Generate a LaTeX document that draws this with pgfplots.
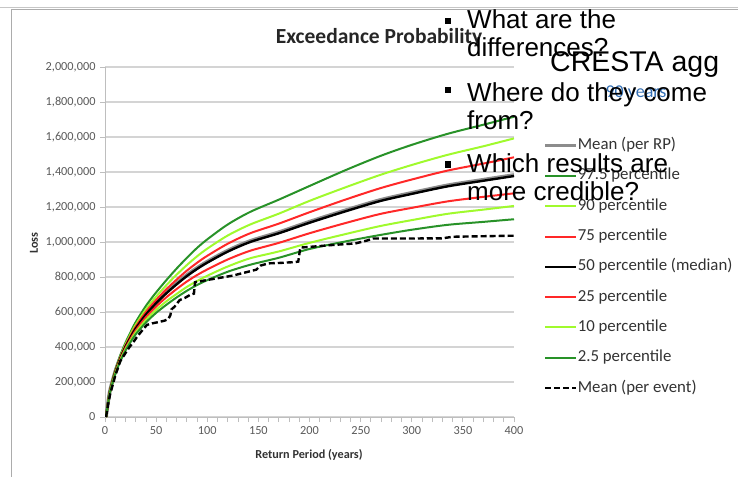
\documentclass[border=0pt]{standalone}
\usepackage{fontspec}
\setmainfont{Carlito}
\newfontfamily\arial{Liberation Sans}
\usepackage{pgfplots}
\usepackage{pgfplotstable}
\pgfplotsset{compat=1.18}
\definecolor{dgreen}{RGB}{40,146,40}
\definecolor{lgreen}{RGB}{160,250,45}
\definecolor{ered}{RGB}{255,40,40}
\definecolor{meangray}{RGB}{140,140,140}
\definecolor{gridgray}{RGB}{212,212,212}
\definecolor{axgray}{RGB}{190,190,190}
\definecolor{labgray}{RGB}{89,89,89}
\definecolor{legtext}{RGB}{50,50,50}
\definecolor{yrsblue}{RGB}{50,110,180}

\pgfplotstableread{
rp   meanrp  p975    p90     p75     p50     p25     p10     p025
1    0       0       0       0       0       0       0       0
3    84000   83000   82000   81000   80000   79000   78000   77000
5    155000  156000  154000  152000  150000  148000  146000  144000
10   260000  267000  262000  259000  255000  251000  248000  244000
15   340000  353000  345000  340000  335000  330000  325000  319000
20   406000  424000  414000  407000  400000  393000  386000  379000
25   461000  485000  473000  464000  455000  446000  437000  428000
30   511000  542000  527000  516000  505000  494000  483000  472000
40   591000  635000  615000  600000  585000  570000  555000  540000
50   656000  712000  688000  669000  650000  631000  612000  595000
60   713000  782000  753000  730000  707000  684000  661000  641000
70   764000  848000  813000  785000  758000  731000  703000  683000
80   811000  909000  868000  836000  805000  774000  743000  721000
90   852000  966000  918000  881000  846000  811000  777000  754000
100  888000  1015000 962000  921000  882000  843000  807000  782000
120  951000  1100000 1037000 990000  945000  900000  860000  830000
142  1006000 1172000 1100000 1050000 1000000 950000  907000  870000
170  1056000 1242000 1162000 1105000 1050000 995000  946000  910000
200  1116000 1320000 1235000 1170000 1110000 1050000 995000  960000
235  1181000 1410000 1312000 1242000 1175000 1108000 1045000 1003000
269  1240000 1491000 1383000 1307000 1234000 1160000 1091000 1040000
300  1281000 1555000 1440000 1357000 1275000 1195000 1125000 1070000
335  1324000 1618000 1498000 1408000 1318000 1232000 1161000 1098000
370  1356000 1670000 1547000 1448000 1350000 1258000 1185000 1115000
400  1383000 1716000 1592000 1484000 1377000 1278000 1206000 1130000
}\eptable

\pgfplotstableread{
rp   loss
1    0
3    70000
5    130000
10   235000
15   320000
20   365000
24   400000
28   430000
31   455000
36   492000
41   526000
46   535000
52   542000
58   550000
62   560000
64   583000
65   615000
68   630000
73   668000
78   680000
83   697000
87   705000
88   770000
100  783000
112  795000
125  808000
140  830000
148  842000
152  865000
160  878000
170  880000
185  885000
189  888000
191  968000
200  972000
223  983000
245  992000
256  1008000
262  1020000
300  1020000
330  1021000
340  1030000
370  1033000
400  1036000
}\evtable

\begin{document}
\begin{tikzpicture}[x=1pt,y=1pt]
\useasboundingbox (0,0) rectangle (738,477);
% frame
\draw[gray!45, line width=0.8pt] (0,470) -- (738,470);
\draw[gray!65, line width=1pt] (738,467) -- (11,467) -- (11,0);

\begin{axis}[
  at={(105pt,60pt)}, anchor=south west,
  scale only axis, width=409pt, height=350pt,
  xmin=0, xmax=400, ymin=0, ymax=2000000,
  axis lines*=left,
  axis line style={-, draw=axgray, line width=1pt},
  xtick={0,50,...,400}, minor x tick num=4,
  ytick={0,200000,...,2000000},
  yticklabels={0,{200,000},{400,000},{600,000},{800,000},{1,000,000},{1,200,000},{1,400,000},{1,600,000},{1,800,000},{2,000,000}},
  scaled y ticks=false,
  /pgf/number format/assume math mode=true,
  tick align=outside,
  xtick style={draw=axgray, line width=0.8pt},
  ytick style={draw=axgray, line width=0.8pt},
  major tick length=5pt, minor tick length=5pt,
  ymajorgrids, grid style={draw=gridgray, line width=1.3pt},
  tick label style={font=\fontsize{12.3}{14}\selectfont, text=labgray},
  xticklabel style={yshift=-1pt},
  yticklabel style={xshift=-1pt},
  legend style={at={(1.0709,0.7986)}, anchor=north west, draw=none, fill=none,
    font=\fontsize{16.8}{18}\selectfont, text=legtext, row sep=14.3pt,
    inner sep=0pt, nodes={inner sep=0pt, text height=12pt, text depth=4pt}},
  legend cell align=left,
  legend image code/.code={\draw[#1] (0pt,0pt) -- (31pt,0pt);},
  legend style={/tikz/every even column/.append style={column sep=4pt}},
]
\addplot[meangray, line width=3.6pt, smooth] table[x=rp, y=meanrp] {\eptable};
\addlegendentry{Mean (per RP)}
\addplot[dgreen, line width=2pt, smooth] table[x=rp, y=p975] {\eptable};
\addlegendentry{97.5 percentile}
\addplot[lgreen, line width=2pt, smooth] table[x=rp, y=p90] {\eptable};
\addlegendentry{90 percentile}
\addplot[ered, line width=2pt, smooth] table[x=rp, y=p75] {\eptable};
\addlegendentry{75 percentile}
\addplot[black, line width=2.4pt, smooth] table[x=rp, y=p50] {\eptable};
\addlegendentry{50 percentile (median)}
\addplot[ered, line width=2pt, smooth] table[x=rp, y=p25] {\eptable};
\addlegendentry{25 percentile}
\addplot[lgreen, line width=2pt, smooth] table[x=rp, y=p10] {\eptable};
\addlegendentry{10 percentile}
\addplot[dgreen, line width=2pt, smooth] table[x=rp, y=p025] {\eptable};
\addlegendentry{2.5 percentile}
\addplot[black, line width=2.4pt, dash pattern=on 6pt off 3pt] table[x=rp, y=loss] {\evtable};
\addlegendentry{Mean (per event)}
\end{axis}

% titles and axis labels
\node[anchor=base, font=\bfseries\fontsize{21.5}{24}\selectfont, text=black!85] at (379,433.7) {Exceedance Probability};
\node[font=\bfseries\fontsize{12.2}{14}\selectfont, text=legtext] at (309,22) {Return Period (years)};
\node[rotate=90, font=\bfseries\fontsize{12.2}{14}\selectfont, text=legtext] at (34,234) {Loss};

% overlapping slide text
\node[anchor=center, font=\fontsize{18}{20}\selectfont, text=yrsblue] at (636,384) {90 years};
\node[anchor=base west, inner sep=0pt, font=\arial\fontsize{28.5}{32}\selectfont] at (550,405) {CRESTA agg};
\begin{scope}[font=\arial\fontsize{26}{28}\selectfont]
\fill (444.8,452.8) rectangle +(6.5,6.5);
\fill (444.8,383.8) rectangle +(6.5,6.5);
\fill (444.8,309.3) rectangle +(6.5,6.5);
\node[anchor=base west, inner sep=0pt] at (467,448) {What are the};
\node[anchor=base west, inner sep=0pt] at (467,420) {differences?};
\node[anchor=base west, inner sep=0pt] at (467,375) {Where do they come};
\node[anchor=base west, inner sep=0pt] at (467,347) {from?};
\node[anchor=base west, inner sep=0pt] at (467,304) {Which results are};
\node[anchor=base west, inner sep=0pt] at (467,276) {more credible?};
\end{scope}
\end{tikzpicture}
\end{document}
